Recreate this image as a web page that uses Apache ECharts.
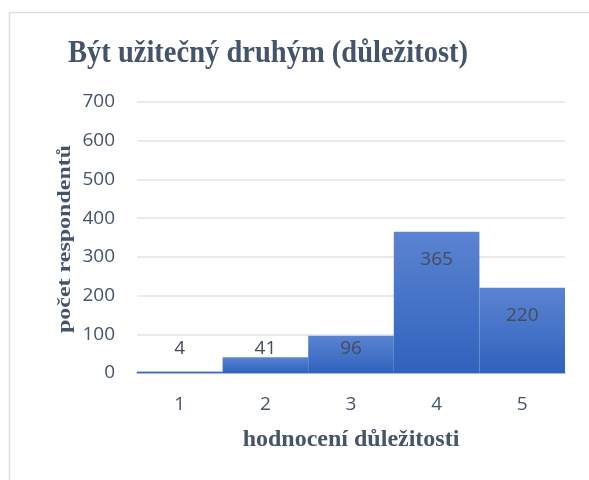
<!DOCTYPE html>
<html><head><meta charset="utf-8">
<script src="https://cdn.jsdelivr.net/npm/echarts@6/dist/echarts.min.js"></script>
<style>html,body{margin:0;padding:0;background:#fff}#c{width:589px;height:480px}</style>
</head><body><div id="c"></div>
<script>
const titleText = 'Být užitečný druhým (důležitost)';
const categories = ['1', '2', '3', '4', '5'];
const counts = [4, 41, 96, 365, 220];
const yTicks = [0, 100, 200, 300, 400, 500, 600, 700];
const xName = 'hodnocení důležitosti';
const yName = 'počet respondentů';

const textCol = '#44546a';
const serif = '"Liberation Serif","Times New Roman",serif';
const sans = '"Open Sans","Noto Sans",sans-serif';

const chart = echarts.init(document.getElementById('c'), null, {renderer: 'canvas'});
chart.setOption({
  animation: false,
  grid: {left: 137, right: 24, top: 102, bottom: 107},
  graphic: [
    {type: 'rect', shape: {x: 9.5, y: 12.5, width: 700, height: 600},
     style: {fill: 'none', stroke: '#d9dee6', lineWidth: 1.5}, silent: true},
    {type: 'text', x: 268, y: 54, scaleX: 0.92,
     style: {text: titleText, font: 'bold 31px ' + serif, fill: textCol,
             textAlign: 'center', textVerticalAlign: 'middle'}},
    {type: 'text', x: 65, y: 239, rotation: Math.PI / 2, scaleY: 0.78,
     style: {text: yName, font: 'bold 24px ' + serif, fill: textCol,
             textAlign: 'center', textVerticalAlign: 'middle'}}
  ],
  xAxis: {
    type: 'category', data: categories,
    name: xName, nameLocation: 'middle', nameGap: 55,
    nameTextStyle: {fontFamily: serif, fontWeight: 'bold', fontSize: 24, color: textCol},
    axisTick: {show: false},
    axisLine: {lineStyle: {color: '#8eaadb', width: 1.5}},
    axisLabel: {fontFamily: sans, fontSize: 19, color: textCol, margin: 22}
  },
  yAxis: {
    type: 'value', min: yTicks[0], max: yTicks[yTicks.length - 1], interval: 100,
    axisLine: {show: false}, axisTick: {show: false},
    axisLabel: {fontFamily: sans, fontSize: 19, color: textCol, margin: 22},
    splitLine: {lineStyle: {color: '#e1e4e9', width: 1.5}}
  },
  series: [{
    type: 'bar', barCategoryGap: '0%',
    data: counts.map(v => ({
      value: v,
      label: v > 150 ? {position: 'insideTop', distance: 18} : {position: 'insideBottom', distance: 15}
    })),
    itemStyle: {color: new echarts.graphic.LinearGradient(0, 0, 0, 1, [
      {offset: 0, color: '#5b84d1'}, {offset: 1, color: '#2f62bd'}])},
    label: {show: true, fontFamily: sans, fontSize: 19, color: '#444c58'}
  }]
});
</script></body></html>
